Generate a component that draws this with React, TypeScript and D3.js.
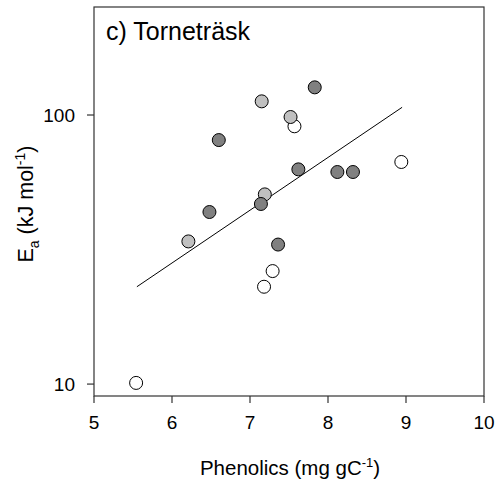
import React from "react";
import * as d3 from "d3";

const whiteX = [5.54, 7.57, 8.94, 7.29, 7.18];
const whiteY = [10.1, 90.8, 66.9, 26.3, 23.0];
const lightX = [6.21, 7.15, 7.52, 7.19];
const lightY = [33.9, 112.4, 98.3, 50.7];
const darkX = [6.6, 6.48, 7.83, 7.62, 8.12, 8.32, 7.14, 7.36];
const darkY = [80.7, 43.6, 126.7, 62.8, 61.4, 61.4, 46.7, 33.0];
const fitX = [5.55, 8.95];
const fitY = [23.0, 106.8];
const xTicks = [5, 6, 7, 8, 9, 10];
const yTicks = [10, 100];

const W = 501;
const H = 485;
const left = 94;
const right = 484;
const top = 7;
const bottom = 396;

export default function App() {
  const x = d3.scaleLinear().domain([5, 10]).range([left, right]);
  const y = d3.scaleLog().domain([9.03, 252]).range([bottom, top]);
  const line = d3
    .line<number>()
    .x((_, i) => x(fitX[i]))
    .y((d) => y(d));
  const font = "Liberation Sans, Arial, sans-serif";
  const r = 6.5;
  const series = [
    { xs: whiteX, ys: whiteY, fill: "#ffffff" },
    { xs: lightX, ys: lightY, fill: "#c0c0c0" },
    { xs: darkX, ys: darkY, fill: "#808080" },
  ];
  return (
    <svg
      width={W}
      height={H}
      style={{ position: "absolute", left: 0, top: 0, background: "#fff" }}
      fontFamily={font}
    >
      <rect x={0} y={0} width={W} height={H} fill="#fff" />
      <rect
        x={left}
        y={top}
        width={right - left}
        height={bottom - top}
        fill="none"
        stroke="#333"
        strokeWidth={1.2}
      />
      {xTicks.map((t) => (
        <g key={"x" + t}>
          <line x1={x(t)} x2={x(t)} y1={bottom} y2={bottom + 7} stroke="#333" strokeWidth={1.2} />
          <text x={x(t)} y={bottom + 33} textAnchor="middle" fontSize={19} fill="#000">
            {t}
          </text>
        </g>
      ))}
      {yTicks.map((t) => (
        <g key={"y" + t}>
          <line x1={left - 7} x2={left} y1={y(t)} y2={y(t)} stroke="#333" strokeWidth={1.2} />
          <text x={left - 19} y={y(t) + 7} textAnchor="end" fontSize={19} fill="#000">
            {t}
          </text>
        </g>
      ))}
      <path d={line(fitY) || ""} fill="none" stroke="#000" strokeWidth={1} />
      {series.map((s, si) =>
        s.xs.map((xv, i) => (
          <circle
            key={si + "-" + i}
            cx={x(xv)}
            cy={y(s.ys[i])}
            r={r}
            fill={s.fill}
            stroke="#000"
            strokeWidth={1}
          />
        ))
      )}
      <text x={106} y={40} fontSize={25} fill="#000">
        c) Torneträsk
      </text>
      <text x={290} y={475} textAnchor="middle" fontSize={20.5} fill="#000">
        Phenolics (mg gC
        <tspan fontSize={13} dy={-8}>-1</tspan>
        <tspan dy={8}>)</tspan>
      </text>
      <text
        transform={`translate(33, 204) rotate(-90)`}
        textAnchor="middle"
        fontSize={21.5}
        fill="#000"
      >
        E<tspan fontSize={14} dy={6}>a</tspan>
        <tspan dy={-6}> (kJ mol</tspan>
        <tspan fontSize={14} dy={-8}>-1</tspan>
        <tspan dy={8}>)</tspan>
      </text>
    </svg>
  );
}
